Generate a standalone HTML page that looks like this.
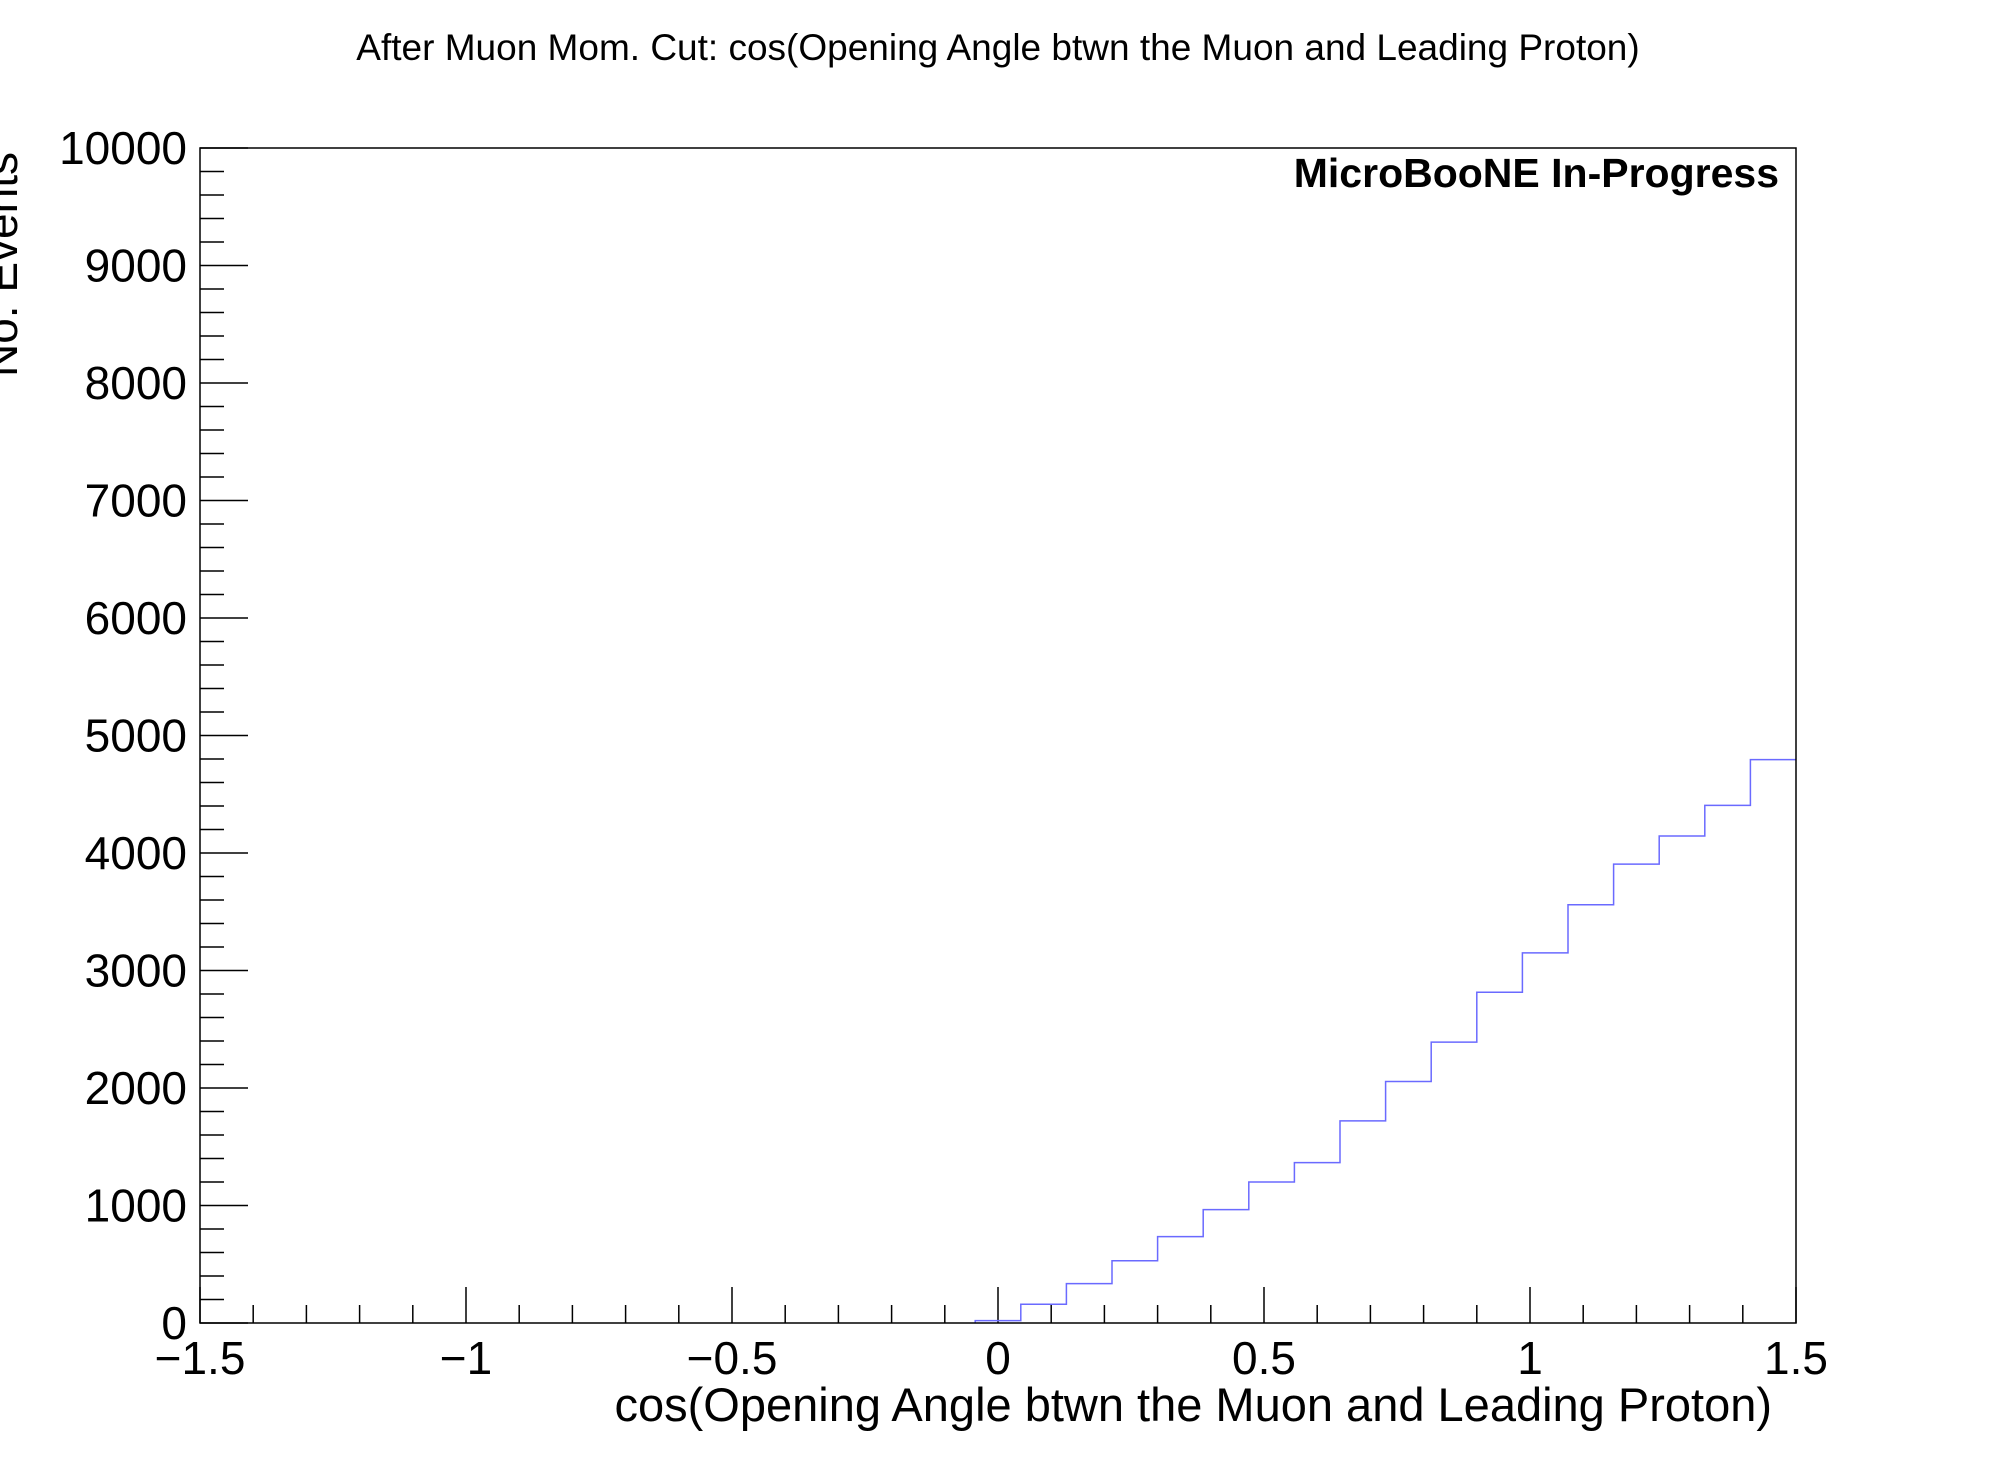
<!DOCTYPE html>
<html><head><meta charset="utf-8"><style>
html,body{margin:0;padding:0;background:#fff;}
svg{display:block;font-family:"Liberation Sans",Arial,sans-serif;}
</style></head><body>
<svg id="chart" width="1996" height="1472" viewBox="0 0 1996 1472" xmlns="http://www.w3.org/2000/svg">
<rect width="1996" height="1472" fill="#fff"/>
<text x="998" y="60" font-size="37" text-anchor="middle">After Muon Mom. Cut: cos(Opening Angle btwn the Muon and Leading Proton)</text>
<g id="axes"></g>
<path id="hist" fill="none" stroke="#6a6aff" stroke-width="1.5"/>
<rect x="200" y="148" width="1596" height="1175" fill="none" stroke="#000" stroke-width="1.5"/>
<text x="1779" y="187" font-size="41" font-weight="bold" text-anchor="end">MicroBooNE In-Progress</text>
<text x="1772" y="1421" font-size="47" text-anchor="end">cos(Opening Angle btwn the Muon and Leading Proton)</text>
<text transform="translate(17,152) rotate(-90)" font-size="46" text-anchor="end">No. Events</text>
</svg>
<script>
const binEdgesMin = -1.5;
const binEdgesMax = 1.5;
const binCounts = [0,0,0,0,0,0,0,0,0,0,0,0,0,0,0,0,0,20,160,335,530,735,965,1200,1365,1720,2055,2390,2815,3150,3560,3905,4145,4405,4795];
const xTickLabels = ["\u22121.5","\u22121","\u22120.5","0","0.5","1","1.5"];
const xTickValues = [-1.5,-1,-0.5,0,0.5,1,1.5];
const yTickValues = [0,1000,2000,3000,4000,5000,6000,7000,8000,9000,10000];
const yMax = 10000;

const L=200,R=1796,T=148,B=1323;
const sx=v=>L+(v-binEdgesMin)/(binEdgesMax-binEdgesMin)*(R-L);
const sy=v=>B-v/yMax*(B-T);
const NS="http://www.w3.org/2000/svg";
const axes=document.getElementById('axes');
function line(x1,y1,x2,y2){const l=document.createElementNS(NS,'line');l.setAttribute('x1',x1);l.setAttribute('y1',y1);l.setAttribute('x2',x2);l.setAttribute('y2',y2);l.setAttribute('stroke','#000');l.setAttribute('stroke-width','1.5');axes.appendChild(l);return l;}
function text(x,y,s,anchor){const t=document.createElementNS(NS,'text');t.setAttribute('x',x);t.setAttribute('y',y);t.setAttribute('font-size','46');t.setAttribute('text-anchor',anchor);t.textContent=s;axes.appendChild(t);return t;}
for(let i=0;i<=30;i++){const v=-1.5+i*0.1;const major=i%5===0;const l=line(sx(v),B,sx(v),B-(major?36:18));

}
xTickValues.forEach((v,i)=>{const t=text(sx(v),1374,xTickLabels[i],'middle');

});
for(let i=0;i<=50;i++){const v=i*200;const major=i%5===0;const l=line(L,sy(v),L+(major?48:24),sy(v));

}
yTickValues.forEach(v=>{const t=text(187,sy(v)+16,String(v),'end');

});
const n=binCounts.length,w=(binEdgesMax-binEdgesMin)/n;
let d='',started=false;
for(let i=0;i<n;i++){if(binCounts[i]<=0&&!started)continue;
const x0=sx(binEdgesMin+i*w),x1=sx(binEdgesMin+(i+1)*w),y=sy(binCounts[i]);
if(!started){d+=`M${x0},${B}L${x0},${y}`;started=true;}else d+=`L${x0},${y}`;
d+=`L${x1},${y}`;}
document.getElementById('hist').setAttribute('d',d);
</script>
</body></html>
